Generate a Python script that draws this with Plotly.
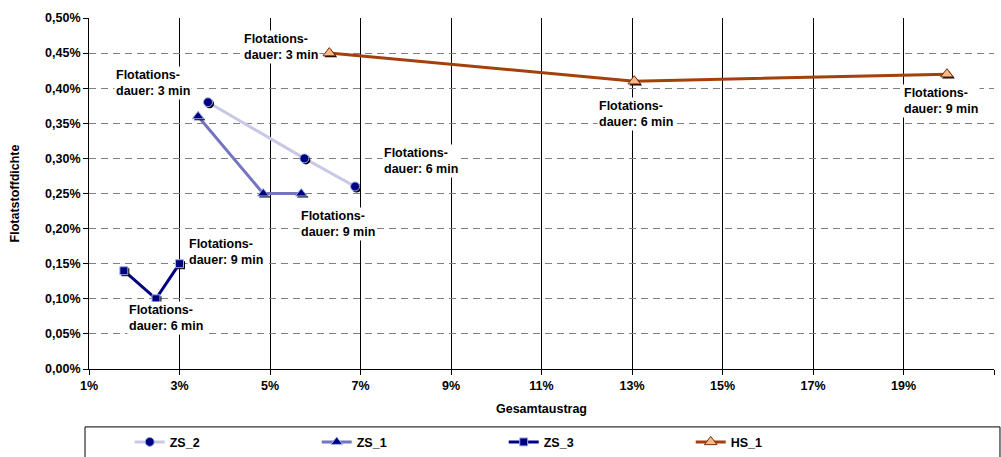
import plotly.graph_objects as go

# Gesamtaustrag (%) and Flotatstoffdichte (%) per series
zs2_x = [3.63, 5.76, 6.88]
zs2_y = [0.38, 0.30, 0.26]
zs1_x = [3.41, 4.85, 5.69]
zs1_y = [0.36, 0.25, 0.25]
zs3_x = [1.77, 2.48, 3.00]
zs3_y = [0.14, 0.10, 0.15]
hs1_x = [6.31, 13.05, 19.96]
hs1_y = [0.45, 0.41, 0.42]

x_ticks = [1, 3, 5, 7, 9, 11, 13, 15, 17, 19, 21]
x_tick_text = ["1%", "3%", "5%", "7%", "9%", "11%", "13%", "15%", "17%", "19%", "21%"]
y_ticks = [0.0, 0.05, 0.10, 0.15, 0.20, 0.25, 0.30, 0.35, 0.40, 0.45, 0.50]
y_tick_text = ["0,00%", "0,05%", "0,10%", "0,15%", "0,20%", "0,25%",
               "0,30%", "0,35%", "0,40%", "0,45%", "0,50%"]

# label texts with their anchor points (left edge, vertical middle)
label_text = ["Flotations-<br>dauer: 3 min", "Flotations-<br>dauer: 3 min",
              "Flotations-<br>dauer: 6 min", "Flotations-<br>dauer: 9 min",
              "Flotations-<br>dauer: 9 min", "Flotations-<br>dauer: 6 min",
              "Flotations-<br>dauer: 6 min", "Flotations-<br>dauer: 9 min"]
label_x = [1.56, 4.39, 7.48, 5.65, 3.17, 1.84, 12.22, 18.97]
label_y = [0.407, 0.459, 0.296, 0.207, 0.167, 0.073, 0.363, 0.382]

FONT = "Liberation Sans, Arial, sans-serif"
FS = 12.5

X_RANGE = [1, 21]
Y_RANGE = [0, 0.5]
PLOT_W, PLOT_H = 905, 351
# small offset (about 1.5 px) for the drop shadow behind each marker
SHX = 1.5 * (X_RANGE[1] - X_RANGE[0]) / PLOT_W
SHY = 1.5 * (Y_RANGE[1] - Y_RANGE[0]) / PLOT_H


def bold(size=FS):
    return dict(family=FONT, size=size, color="black", weight="bold")


series = [
    dict(name="ZS_2", x=zs2_x, y=zs2_y, line="#C8C8E6", symbol="circle", size=9,
         fill="#000080", edge="#9DB4F0"),
    dict(name="ZS_1", x=zs1_x, y=zs1_y, line="#7474C0", symbol="triangle-up", size=10,
         fill="#000080", edge="#9DB4F0"),
    dict(name="ZS_3", x=zs3_x, y=zs3_y, line="#000080", symbol="square", size=8,
         fill="#000080", edge="#9DB4F0"),
    dict(name="HS_1", x=hs1_x, y=hs1_y, line="#A3400C", symbol="triangle-up", size=11,
         fill="#F8B888", edge="#7A2E08"),
]

fig = go.Figure()

for s in series:
    fig.add_trace(go.Scatter(
        x=s["x"], y=s["y"], name=s["name"], mode="lines",
        line=dict(color=s["line"], width=3),
        showlegend=False, hoverinfo="skip",
    ))
    fig.add_trace(go.Scatter(
        x=[v + SHX for v in s["x"]], y=[v - SHY for v in s["y"]], mode="markers",
        marker=dict(symbol=s["symbol"], size=s["size"], color="black"),
        showlegend=False, hoverinfo="skip",
    ))
    fig.add_trace(go.Scatter(
        x=s["x"], y=s["y"], name=s["name"], mode="markers",
        marker=dict(symbol=s["symbol"], size=s["size"], color=s["fill"],
                    line=dict(color=s["edge"], width=1)),
        showlegend=False,
    ))
    # legend entry
    fig.add_trace(go.Scatter(
        x=[None], y=[None], name=s["name"], mode="lines+markers",
        line=dict(color=s["line"], width=3),
        marker=dict(symbol=s["symbol"], size=s["size"], color=s["fill"],
                    line=dict(color=s["edge"], width=1)),
    ))

for t, xv, yv in zip(label_text, label_x, label_y):
    fig.add_annotation(
        x=xv, y=yv, xref="x", yref="y", text=t, showarrow=False,
        xanchor="left", yanchor="middle", align="left",
        bgcolor="white", borderpad=1, font=bold(),
    )

# legend frame
fig.add_shape(type="rect", xref="paper", yref="paper",
              x0=-0.0044, x1=1.0066, y0=-0.262, y1=-0.165,
              line=dict(color="black", width=1), fillcolor="rgba(0,0,0,0)")

fig.update_layout(
    width=1001, height=457,
    margin=dict(l=89, r=7, t=18, b=88, autoexpand=False),
    paper_bgcolor="white", plot_bgcolor="white",
    font=dict(family=FONT, size=FS, color="black"),
    showlegend=True,
    legend=dict(
        orientation="h", x=0.045, xanchor="left", y=-0.166, yanchor="top",
        entrywidth=142, entrywidthmode="pixels",
        font=bold(), bgcolor="rgba(0,0,0,0)", borderwidth=0, itemclick=False,
    ),
    xaxis=dict(
        range=X_RANGE, tickvals=x_ticks, ticktext=x_tick_text,
        showgrid=True, gridcolor="black", gridwidth=1,
        showline=True, linecolor="black", linewidth=1,
        ticks="outside", ticklen=5, tickcolor="black",
        zeroline=False, automargin=False, tickfont=bold(),
        title=dict(text="Gesamtaustrag", standoff=12, font=bold()),
    ),
    yaxis=dict(
        range=Y_RANGE, tickvals=y_ticks, ticktext=y_tick_text,
        showgrid=True, gridcolor="#808080", gridwidth=1, griddash="7px,5px",
        showline=True, linecolor="black", linewidth=1,
        ticks="outside", ticklen=5, tickcolor="black",
        zeroline=False, automargin=False, tickfont=bold(),
        title=dict(text="Flotatstoffdichte", standoff=22, font=bold()),
    ),
)

fig.write_html("out.html")
